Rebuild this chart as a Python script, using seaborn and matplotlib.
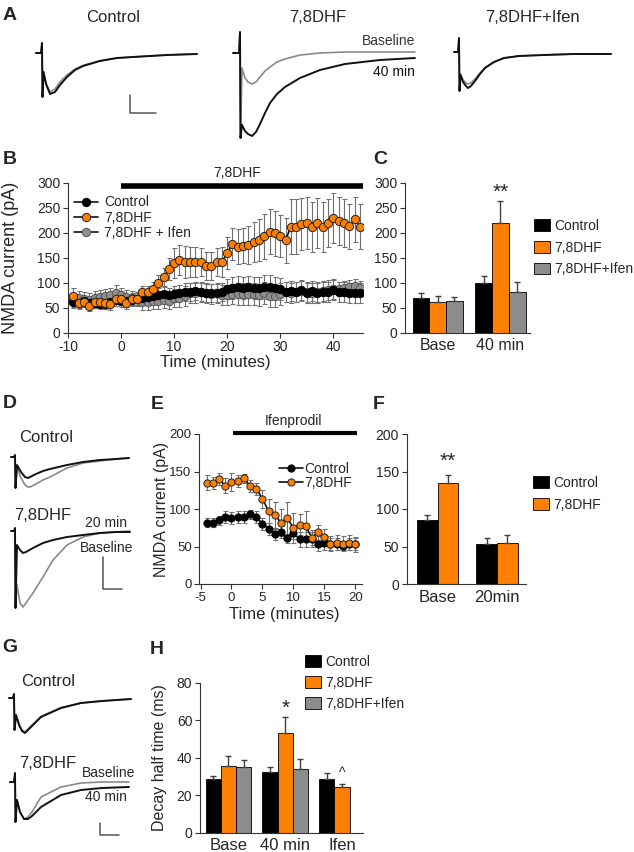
import matplotlib
matplotlib.use("Agg")
import matplotlib.pyplot as plt
import seaborn as sns
import pandas as pd

# ---------------- data ----------------
# A: example NMDA currents (ms, pA, baseline = 0)
a_ctrl_t = [0, 10, 12, 13, 15, 20, 28, 38, 48, 62, 78, 94, 128, 162, 194, 262, 322]
a_ctrl_base = [0, 0, 50, -220, -95, -150, -195, -180, -145, -110, -80, -62, -38, -25, -20, -10, -5]
a_ctrl_40 = [0, 0, 50, -220, -95, -155, -205, -195, -160, -120, -85, -65, -40, -25, -20, -10, -5]

a_dhf_t = [0, 12, 14, 15, 18, 24, 30, 38, 46, 54, 64, 74, 88, 104, 134, 174, 224, 294, 364]
a_dhf_base = [0, 0, 105, -425, -75, -125, -145, -155, -145, -120, -90, -70, -45, -30, -10, 0, 5, 5, 5]
a_dhf_40 = [0, 0, 105, -425, -360, -390, -405, -415, -395, -355, -300, -250, -205, -170, -125, -85, -55, -35, -25]

a_ifen_t = [0, 8, 10, 11, 13, 18, 24, 28, 34, 42, 52, 62, 80, 100, 130, 180, 240, 314]
a_ifen_base = [0, 0, 70, -195, -110, -140, -155, -160, -155, -135, -105, -78, -50, -30, -20, -15, -10, -10]
a_ifen_40 = [0, 0, 70, -195, -115, -150, -170, -180, -170, -145, -110, -80, -50, -30, -20, -15, -10, -10]

# B: NMDA current time course
b_time = list(range(-9, 46))
b_ctrl = [62, 59, 63, 59, 60, 57, 57, 62, 65, 64, 64, 65, 67, 69, 72, 74, 75, 77, 75, 77,
          80, 82, 82, 83, 82, 79, 80, 80, 82, 87, 89, 91, 90, 91, 89, 90, 92, 92, 90, 87,
          82, 84, 82, 85, 80, 83, 79, 82, 82, 85, 82, 81, 79, 79, 79]
b_ctrl_err = [12, 10, 10, 10, 10, 10, 10, 10, 12, 12, 12, 12, 12, 12, 14, 14, 14, 14, 14, 16,
              16, 18, 18, 18, 18, 18, 18, 18, 18, 20, 22, 22, 22, 22, 22, 22, 24, 24, 22, 22,
              20, 20, 20, 20, 20, 20, 20, 20, 20, 20, 20, 20, 20, 20, 20]
b_dhf = [73, 60, 62, 54, 62, 62, 59, 57, 67, 67, 59, 67, 67, 82, 81, 87, 99, 111, 127, 139,
         145, 141, 141, 141, 141, 133, 133, 141, 141, 160, 177, 172, 174, 175, 182, 185, 193, 202, 199, 193,
         185, 212, 212, 217, 219, 211, 220, 212, 219, 229, 223, 220, 213, 227, 212]
b_dhf_err = [17, 12, 10, 10, 12, 12, 12, 12, 14, 12, 12, 12, 12, 12, 12, 14, 16, 18, 22, 30,
             30, 32, 30, 30, 28, 28, 28, 28, 30, 32, 32, 35, 35, 38, 40, 42, 45, 45, 45, 42,
             45, 55, 55, 52, 52, 50, 50, 50, 48, 50, 48, 48, 45, 45, 45]
b_ifen = [65, 69, 67, 65, 69, 72, 73, 75, 79, 75, 72, 69, 67, 62, 62, 64, 64, 65, 64, 69,
          70, 73, 80, 79, 82, 79, 77, 79, 75, 75, 77, 77, 77, 77, 77, 75, 79, 74, 74, 77,
          82, 80, 82, 84, 82, 80, 82, 84, 85, 87, 88, 90, 92, 93, 89]
b_ifen_err = [14, 14, 14, 14, 14, 14, 14, 14, 16, 14, 14, 14, 14, 16, 16, 16, 16, 16, 16, 18,
              18, 20, 20, 20, 20, 20, 20, 20, 20, 20, 20, 22, 22, 22, 22, 22, 22, 22, 22, 22,
              20, 20, 20, 20, 20, 20, 20, 20, 20, 20, 14, 14, 14, 14, 14]

# C: summary bars
c_groups = ["Base", "40 min"]
c_ctrl, c_ctrl_err = [70, 100], [10, 13]
c_dhf, c_dhf_err = [62, 219], [12, 45]
c_ifen, c_ifen_err = [63, 81], [9, 21]

# D: traces before / after ifenprodil
d_ctrl_t = [0, 6, 8, 9, 12, 20, 28, 34, 38, 50, 64, 78, 112, 144, 178, 210, 236]
d_ctrl_base = [0, 0, 10, -155, -50, -105, -140, -150, -150, -135, -115, -100, -55, -30, -20, -10, -5]
d_ctrl_20 = [0, 0, 10, -155, -40, -75, -100, -105, -100, -85, -70, -60, -40, -25, -15, -10, -5]
d_dhf_t = [0, 6, 8, 9, 12, 18, 24, 30, 44, 64, 84, 112, 144, 178, 210, 238]
d_dhf_base = [0, 0, 15, -385, -270, -360, -380, -360, -310, -230, -145, -70, -30, -10, -5, 0]
d_dhf_20 = [0, 0, 15, -385, -70, -95, -110, -105, -85, -60, -45, -30, -20, -10, -5, -5]

# E: ifenprodil time course
e_time = list(range(-4, 21))
e_ctrl = [82, 82, 85, 89, 88, 89, 90, 93, 90, 80, 74, 67, 70, 61, 68, 60, 60, 60, 54, 55, 54, 54, 51, 54, 53]
e_ctrl_err = [6, 6, 6, 8, 8, 8, 8, 6, 8, 8, 8, 8, 8, 6, 8, 10, 10, 10, 10, 10, 8, 8, 6, 8, 8]
e_dhf = [135, 135, 140, 131, 136, 138, 141, 131, 127, 114, 97, 92, 82, 88, 75, 79, 77, 62, 69, 63, 54, 55, 54, 55, 53]
e_dhf_err = [10, 8, 8, 10, 12, 8, 6, 8, 8, 12, 16, 18, 18, 22, 20, 14, 20, 10, 10, 10, 10, 10, 10, 10, 10]

# F: summary bars
f_groups = ["Base", "20min"]
f_ctrl, f_ctrl_err = [85, 54], [7, 8]
f_dhf, f_dhf_err = [135, 55], [10, 11]

# G: decay traces
g_ctrl_t = [0, 8, 10, 11, 14, 20, 26, 32, 44, 64, 104, 144, 186, 244]
g_ctrl_base = [0, 0, 20, -160, -85, -130, -160, -170, -140, -92, -48, -25, -15, -5]
g_ctrl_40 = [0, 0, 20, -160, -85, -135, -165, -175, -145, -95, -50, -25, -15, -5]
g_dhf_t = [0, 8, 10, 11, 14, 20, 28, 36, 44, 62, 102, 142, 184, 238]
g_dhf_base = [0, 0, 45, -200, -90, -150, -185, -175, -150, -75, -25, -5, 0, 0]
g_dhf_40 = [0, 0, 45, -200, -90, -150, -185, -185, -170, -125, -65, -40, -30, -25]

# H: decay half time
h_groups = ["Base", "40 min", "Ifen"]
h_ctrl, h_ctrl_err = [28.4, 32.5, 28.6], [2.0, 2.3, 3.4]
h_dhf, h_dhf_err = [35.7, 53.3, 24.5], [5.2, 8.2, 1.5]
h_ifen, h_ifen_err = [34.8, 34.1], [4.0, 5.4]

# ---------------- style ----------------
sns.set_style("ticks")
plt.rcParams["font.family"] = ["Liberation Sans", "DejaVu Sans"]
plt.rcParams["axes.unicode_minus"] = False
plt.rcParams["axes.linewidth"] = 0.8
plt.rcParams["axes.edgecolor"] = "#333333"

ORANGE = "#FF7F00"
GREY = "#8C8C8C"
BLACK = "#000000"
TRACE_GREY = "#8A8A8A"
MS_PER_PX, PA_PER_PX = 2.0, 5.0

W, H = 634, 852
fig = plt.figure(figsize=(W / 100, H / 100), dpi=100)


def px_axes(x0, y0, x1, y1):
    return fig.add_axes([x0 / W, 1 - y1 / H, (x1 - x0) / W, (y1 - y0) / H])


def ftext(x, y, s, **kw):
    fig.text(x / W, 1 - y / H, s, **kw)


def trace_axes(box, origin):
    x0, y0, x1, y1 = box
    xo, yo = origin
    ax = px_axes(x0, y0, x1, y1)
    ax.set_xlim((x0 - xo) * MS_PER_PX, (x1 - xo) * MS_PER_PX)
    ax.set_ylim(-(y1 - yo) * PA_PER_PX, -(y0 - yo) * PA_PER_PX)
    ax.axis("off")
    return ax


def draw_traces(ax, t, grey, black):
    sns.lineplot(x=t, y=grey, ax=ax, color=TRACE_GREY, lw=1.2, sort=False, estimator=None)
    sns.lineplot(x=t, y=black, ax=ax, color="#111111", lw=1.4, sort=False, estimator=None)


def scale_bar(ax, x, y, dx, dy):
    ax.plot([x, x, x + dx], [y + dy, y, y], color="#555555", lw=1.1, clip_on=False)


def panel_letter(x, y, s):
    ftext(x, y, s, fontsize=14, fontweight="bold", ha="center", va="center")


def style_data_axes(ax):
    sns.despine(ax=ax)
    ax.tick_params(length=3.5, width=0.8, color="#333333", pad=2)


def timecourse(ax, t, vals, errs, face, edge, label, ms):
    ax.errorbar(t, vals, yerr=errs, fmt="none", ecolor="#707070", elinewidth=0.8,
                capsize=1.8, capthick=0.8, zorder=1)
    sns.lineplot(x=t, y=vals, ax=ax, color="#111111", lw=1.2, marker="o", ms=ms,
                 markerfacecolor=face, markeredgecolor=edge, markeredgewidth=0.7,
                 label=label, sort=False, estimator=None, zorder=2)


def bar_panel(ax, groups, series, palette, width):
    rows = []
    for cond, (vals, errs) in series.items():
        for g, v, e in zip(groups, vals, errs):
            rows.append(dict(group=g, cond=cond, value=v, err=e))
    df = pd.DataFrame(rows)
    order = list(series.keys())
    sns.barplot(data=df, x="group", y="value", hue="cond", order=groups, hue_order=order,
                palette=palette, width=width, saturation=1, edgecolor="black",
                linewidth=0.6, errorbar=None, ax=ax)
    centers = {}
    for cont, cond in zip(ax.containers, order):
        sub = df[df.cond == cond]
        for bar, (g, e) in zip(cont, zip(sub.group, sub.err)):
            xc = bar.get_x() + bar.get_width() / 2
            centers[(g, cond)] = xc
            ax.errorbar(xc, bar.get_height(), yerr=[[0], [e]], fmt="none", ecolor="#404040",
                        elinewidth=1.0, capsize=2.5, capthick=1.0, zorder=3)
    ax.set_xlabel("")
    ax.set_ylabel("")
    style_data_axes(ax)
    ax.tick_params(axis="x", length=0, labelsize=12, pad=4)
    ax.tick_params(axis="y", labelsize=10)
    return centers


def bar_legend(ax, x, y, spacing):
    h, l = ax.get_legend_handles_labels()
    ax.legend(h, l, loc="upper left", bbox_to_anchor=(x / W, 1 - y / H),
              bbox_transform=fig.transFigure, frameon=False, fontsize=10,
              handlelength=1.15, handleheight=0.95, handletextpad=0.3,
              labelspacing=spacing, borderpad=0, borderaxespad=0)


# ---------------- A ----------------
panel_letter(10, 16, "A")
ftext(113, 18, "Control", fontsize=12, ha="center", va="center")
ftext(318, 18, "7,8DHF", fontsize=12, ha="center", va="center")
ftext(532, 18, "7,8DHF+Ifen", fontsize=12, ha="center", va="center")

ax = trace_axes((30, 28, 205, 125), (36, 53))
draw_traces(ax, a_ctrl_t, a_ctrl_base, a_ctrl_40)
scale_bar(ax, 188, -300, 52, 90)

ax = trace_axes((228, 28, 420, 142), (233, 53))
draw_traces(ax, a_dhf_t, a_dhf_base, a_dhf_40)
ftext(415, 41, "Baseline", fontsize=10, ha="right", va="center", color="#333333")
ftext(415, 72, "40 min", fontsize=10, ha="right", va="center", color="#111111")

ax = trace_axes((448, 28, 615, 120), (454, 52))
draw_traces(ax, a_ifen_t, a_ifen_base, a_ifen_40)

# ---------------- B ----------------
panel_letter(10, 160, "B")
axB = px_axes(68, 182.7, 363, 332.7)
timecourse(axB, b_time, b_ifen, b_ifen_err, "#8F8F8F", "#555555", "7,8DHF + Ifen", 6)
timecourse(axB, b_time, b_ctrl, b_ctrl_err, BLACK, BLACK, "Control", 6)
timecourse(axB, b_time, b_dhf, b_dhf_err, ORANGE, "#222222", "7,8DHF", 6)
axB.set_xlim(-10, 45.6)
axB.set_ylim(0, 300)
axB.set_xticks([-10, 0, 10, 20, 30, 40])
axB.set_yticks([0, 50, 100, 150, 200, 250, 300])
style_data_axes(axB)
axB.tick_params(labelsize=10)
axB.set_xlabel("Time (minutes)", fontsize=12)
axB.set_ylabel("NMDA current (pA)", fontsize=13)
axB.xaxis.set_label_coords(0.5, -0.15)
axB.yaxis.set_label_coords(-0.165, 0.5)
axB.plot([0, 45.6], [293, 293], color="black", lw=4, clip_on=False, solid_capstyle="butt")
ftext(237, 173, "7,8DHF", fontsize=10, ha="center", va="center")
h, l = axB.get_legend_handles_labels()
want = ["Control", "7,8DHF", "7,8DHF + Ifen"]
h = [h[l.index(w)] for w in want]
axB.legend(h, want, loc="upper left", bbox_to_anchor=(0.02, 0.915), frameon=False,
           fontsize=10, handlelength=1.75, handletextpad=0.4, labelspacing=0.08,
           borderpad=0, borderaxespad=0)

# ---------------- C ----------------
panel_letter(380, 160, "C")
axC = px_axes(405, 182.7, 530, 332.7)
cc = bar_panel(axC, c_groups,
               {"Control": (c_ctrl, c_ctrl_err), "7,8DHF": (c_dhf, c_dhf_err),
                "7,8DHF+Ifen": (c_ifen, c_ifen_err)},
               [BLACK, ORANGE, GREY], 0.8)
axC.set_xlim(-0.52, 1.47)
axC.set_ylim(0, 300)
axC.set_yticks([0, 50, 100, 150, 200, 250, 300])
axC.tick_params(axis="x", labelsize=11.5)
axC.text(cc[("40 min", "7,8DHF")], 281, "**", ha="center", va="center", fontsize=15)
bar_legend(axC, 534, 219, 0.55)

# ---------------- D ----------------
panel_letter(10, 403, "D")
ftext(46, 437, "Control", fontsize=12, ha="center", va="center")
ftext(43, 515, "7,8DHF", fontsize=12, ha="center", va="center")
ax = trace_axes((5, 445, 140, 495), (11, 457))
draw_traces(ax, d_ctrl_t, d_ctrl_base, d_ctrl_20)
ax = trace_axes((5, 520, 140, 612), (11, 531))
draw_traces(ax, d_dhf_t, d_dhf_base, d_dhf_20)
scale_bar(ax, 184, -290, 38, 160)
ftext(127, 523, "20 min", fontsize=10, ha="right", va="center")
ftext(133, 548, "Baseline", fontsize=10, ha="right", va="center")

# ---------------- E ----------------
panel_letter(157, 405, "E")
axE = px_axes(199.3, 434, 362, 584)
timecourse(axE, e_time, e_ctrl, e_ctrl_err, BLACK, BLACK, "Control", 5.2)
timecourse(axE, e_time, e_dhf, e_dhf_err, ORANGE, "#222222", "7,8DHF", 5.2)
axE.set_xlim(-5.2, 21.1)
axE.set_ylim(0, 200)
axE.set_xticks([-5, 0, 5, 10, 15, 20])
axE.set_yticks([0, 50, 100, 150, 200])
style_data_axes(axE)
axE.tick_params(labelsize=9.5)
axE.set_xlabel("Time (minutes)", fontsize=12)
axE.set_ylabel("NMDA current (pA)", fontsize=11.5)
axE.xaxis.set_label_coords(0.52, -0.15)
axE.yaxis.set_label_coords(-0.185, 0.5)
axE.plot([0.2, 20.3], [202, 202], color="black", lw=3, clip_on=False, solid_capstyle="butt")
ftext(293, 421, "Ifenprodil", fontsize=10, ha="center", va="center")
axE.legend(loc="upper left", bbox_to_anchor=(0.49, 0.815), frameon=False, fontsize=10,
           handlelength=1.75, handletextpad=0.1, labelspacing=0.0, borderpad=0,
           borderaxespad=0)

# ---------------- F ----------------
panel_letter(379, 405, "F")
axF = px_axes(406.7, 434, 526, 584)
fc = bar_panel(axF, f_groups,
               {"Control": (f_ctrl, f_ctrl_err), "7,8DHF": (f_dhf, f_dhf_err)},
               [BLACK, ORANGE], 0.7)
axF.set_xlim(-0.52, 1.49)
axF.set_ylim(0, 200)
axF.set_yticks([0, 50, 100, 150, 200])
axF.text(fc[("Base", "7,8DHF")], 163, "**", ha="center", va="center", fontsize=15)
bar_legend(axF, 533, 476, 0.55)

# ---------------- G ----------------
panel_letter(10, 647, "G")
ftext(48, 682, "Control", fontsize=12, ha="center", va="center")
ftext(48, 763, "7,8DHF", fontsize=12, ha="center", va="center")
ax = trace_axes((5, 690, 140, 742), (9, 698))
draw_traces(ax, g_ctrl_t, g_ctrl_base, g_ctrl_40)
ax = trace_axes((5, 765, 140, 840), (10, 782))
draw_traces(ax, g_dhf_t, g_dhf_base, g_dhf_40)
scale_bar(ax, 180, -265, 38, 60)
ftext(135, 773, "Baseline", fontsize=10, ha="right", va="center")
ftext(127, 797, "40 min", fontsize=10, ha="right", va="center")

# ---------------- H ----------------
panel_letter(157, 650, "H")
axH = px_axes(200, 682.7, 363, 832.7)
hc = bar_panel(axH, h_groups,
               {"Control": (h_ctrl, h_ctrl_err), "7,8DHF": (h_dhf, h_dhf_err),
                "7,8DHF+Ifen": (h_ifen, h_ifen_err)},
               [BLACK, ORANGE, GREY], 0.8)
axH.set_xlim(-0.5, 2.37)
axH.set_ylim(0, 80)
axH.set_yticks([0, 20, 40, 60, 80])
axH.set_ylabel("Decay half time (ms)", fontsize=11.5)
axH.yaxis.set_label_coords(-0.2, 0.5)
axH.text(hc[("40 min", "7,8DHF")], 66.5, "*", ha="center", va="center", fontsize=15)
axH.text(hc[("Ifen", "7,8DHF")], 32, "^", ha="center", va="center", fontsize=10)
bar_legend(axH, 305, 655, 0.5)

fig.savefig("out.png", dpi=100)
